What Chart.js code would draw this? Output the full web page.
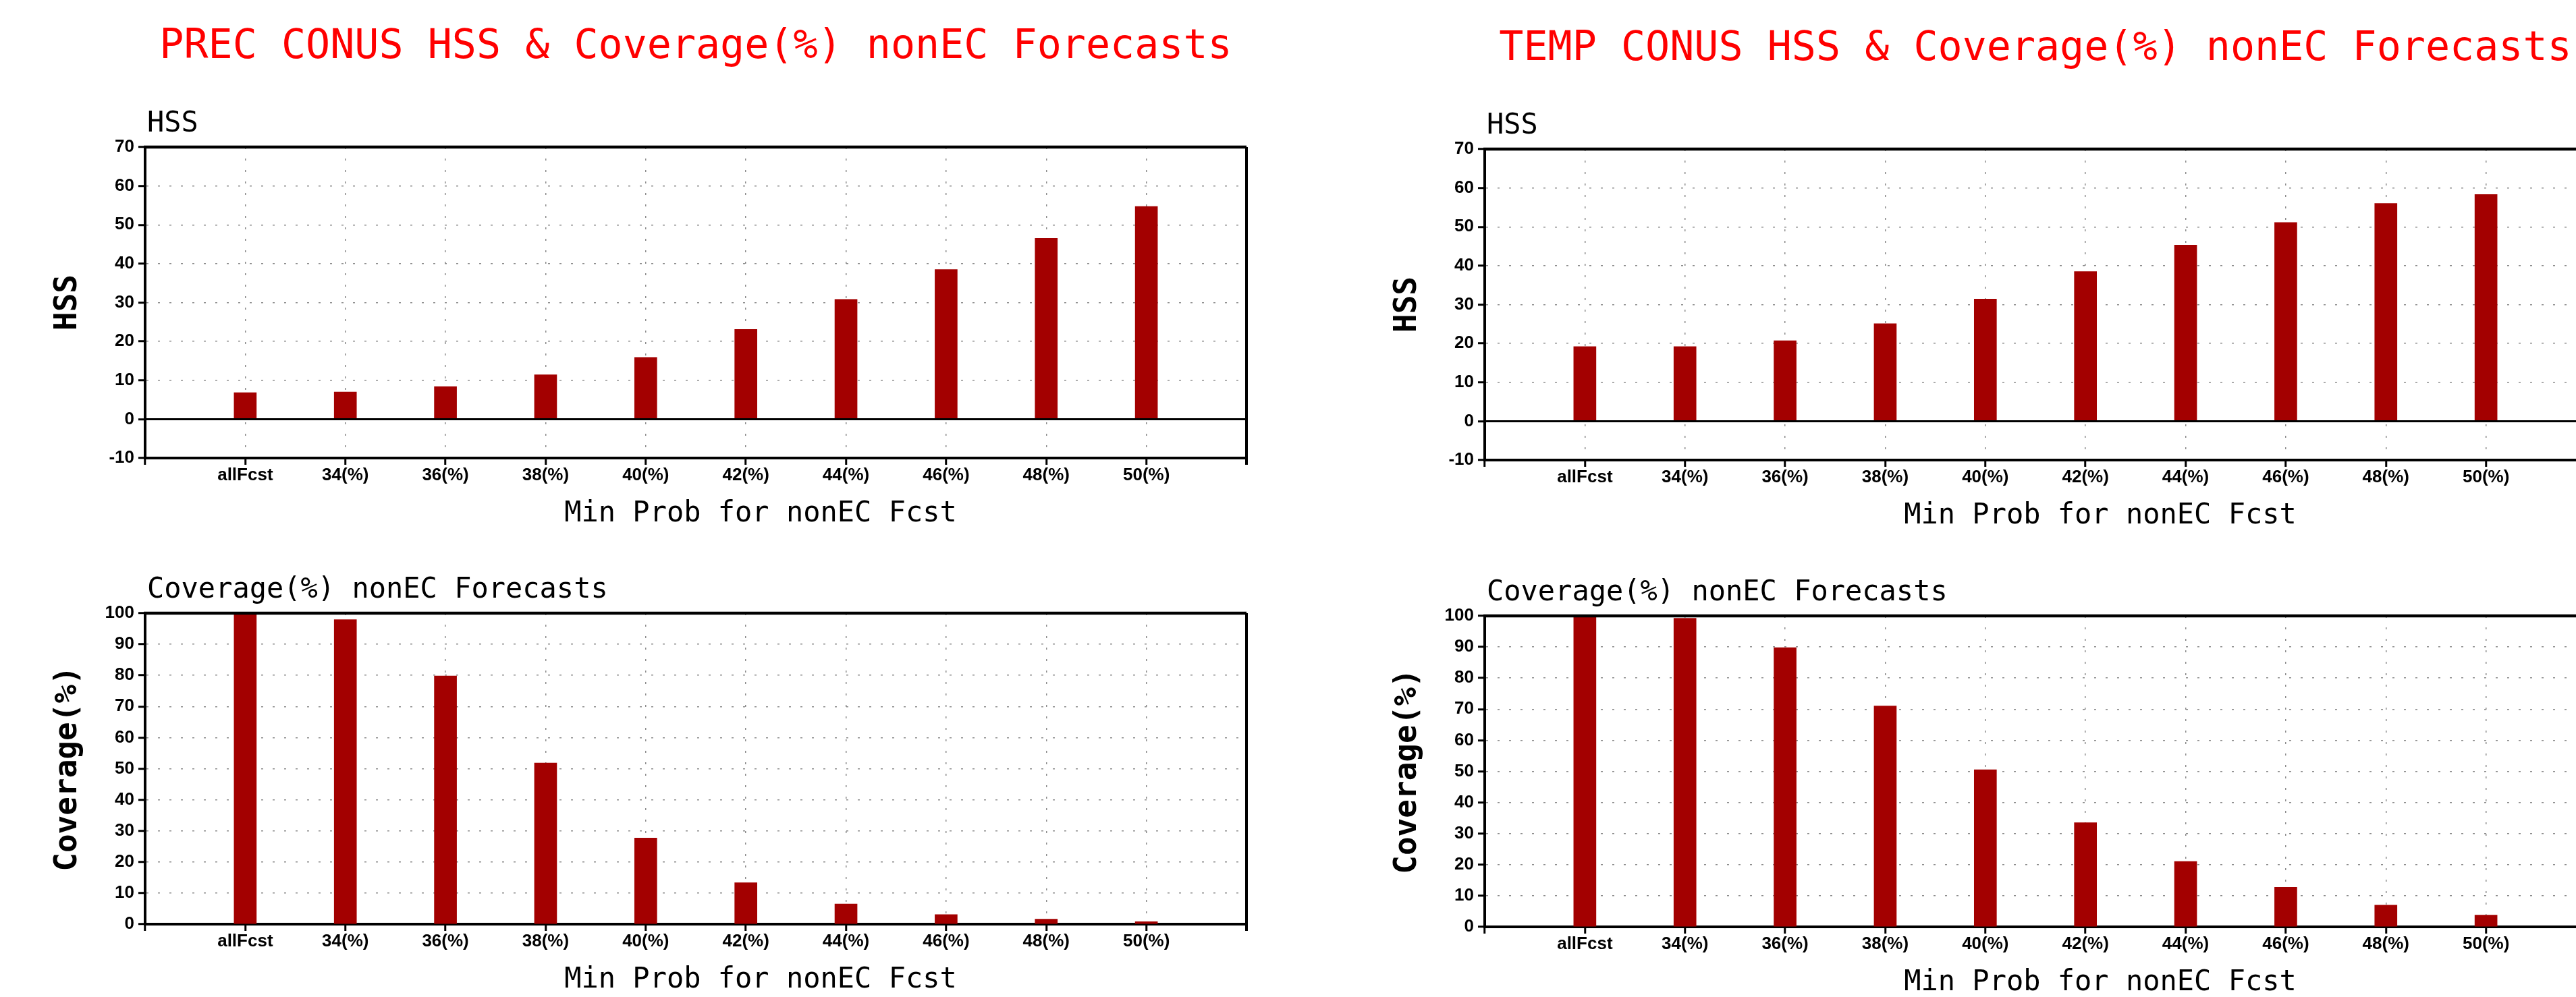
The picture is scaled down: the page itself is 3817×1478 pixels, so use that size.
<!DOCTYPE html>
<html>
<head>
<meta charset="utf-8">
<script src="https://cdn.jsdelivr.net/npm/chart.js@4.4.0/dist/chart.umd.min.js"></script>
<style>
  html, body { margin: 0; padding: 0; background: #fff; overflow: hidden; }
  body { width: 3817px; height: 1478px; position: relative; }
  canvas { position: absolute; }
</style>
</head>
<body>
<canvas id="precHss" width="1794" height="789" style="left:73px;top:0px"></canvas>
<canvas id="precCov" width="1794" height="681" style="left:73px;top:799px"></canvas>
<canvas id="tempHss" width="1794" height="792" style="left:2058px;top:0px"></canvas>
<canvas id="tempCov" width="1794" height="681" style="left:2058px;top:803px"></canvas>
<script>
// categories on the x axis (min prob thresholds)
const categories = ['allFcst', '34(%)', '36(%)', '38(%)', '40(%)', '42(%)', '44(%)', '46(%)', '48(%)', '50(%)'];

// values
const precHss = [6.8, 7.0, 8.4, 11.4, 15.9, 23.1, 30.8, 38.5, 46.5, 54.7];
const precCoverage = [100, 97.9, 79.8, 51.8, 27.7, 13.3, 6.5, 3.1, 1.6, 0.8];
const tempHss = [19.2, 19.2, 20.7, 25.1, 31.4, 38.5, 45.3, 51.1, 56.0, 58.3];
const tempCoverage = [100, 99.2, 89.8, 71.0, 50.5, 33.5, 21.0, 12.7, 7.0, 3.8];

// y axis ranges / tick step
const hssRange = [-10, 70];
const coverageRange = [0, 100];
const tickStep = 10;

const mono = '"DejaVu Sans Mono", monospace';
const barRed = '#a30000';
const gridGrey = '#8c8c8c';

// padded labels so the bars sit one slot in from each edge
const xLabels = [''].concat(categories, ['']);
const pad = arr => [null].concat(arr, [null]);

// frame lines + grads style texts
const gradsFrame = {
  id: 'gradsFrame',
  afterDraw(chart, args, opts) {
    const ctx = chart.ctx;
    const {left, right, top, bottom} = chart.chartArea;
    const y = chart.scales.y;
    ctx.save();
    ctx.strokeStyle = '#000';
    ctx.lineWidth = 4.5;
    ctx.beginPath();
    ctx.moveTo(left - 2, top);
    ctx.lineTo(right, top);
    ctx.stroke();
    ctx.lineWidth = 4;
    ctx.beginPath();
    ctx.moveTo(right, top);
    ctx.lineTo(right, bottom + 10);
    ctx.stroke();
    if (y.min < 0) {
      const y0 = y.getPixelForValue(0);
      ctx.lineWidth = 3;
      ctx.beginPath();
      ctx.moveTo(left, y0);
      ctx.lineTo(right, y0);
      ctx.stroke();
    }
    ctx.textBaseline = 'alphabetic';
    if (opts.title) {
      ctx.fillStyle = '#f00';
      ctx.font = '60px ' + mono;
      ctx.textAlign = 'center';
      ctx.fillText(opts.title, (left + right) / 2, top - 132);
    }
    ctx.fillStyle = '#000';
    ctx.font = '42px ' + mono;
    ctx.textAlign = 'left';
    ctx.fillText(opts.subtitle, left + 3, top - 23);
    ctx.textAlign = 'center';
    ctx.fillText(opts.xTitle, (left + right) / 2 + 96, bottom + 94);
    ctx.restore();
  }
};

function makeChart(id, values, range, yTitle, texts, padTop) {
  new Chart(document.getElementById(id), {
    type: 'bar',
    data: {
      labels: xLabels,
      datasets: [{
        data: pad(values),
        backgroundColor: barRed,
        borderWidth: 0,
        barThickness: 33
      }]
    },
    plugins: [gradsFrame],
    options: {
      responsive: false,
      animation: false,
      layout: { padding: { top: padTop, left: 0, right: 20, bottom: 0 } },
      plugins: {
        legend: { display: false },
        tooltip: { enabled: false },
        gradsFrame: texts
      },
      scales: {
        x: {
          offset: false,
          grid: {
            offset: false,
            color: gridGrey,
            lineWidth: 1.5,
            tickColor: '#000',
            tickWidth: 3,
            tickLength: 10
          },
          border: { display: true, color: '#000', width: 4, dash: [3, 14] },
          ticks: {
            color: '#000',
            padding: 0,
            maxRotation: 0,
            autoSkip: false,
            font: { family: '"Liberation Sans", Arial, sans-serif', size: 26, weight: 'bold' }
          },
          afterFit(scale) { scale.height = 110; }
        },
        y: {
          min: range[0],
          max: range[1],
          grid: {
            color: gridGrey,
            lineWidth: 1.5,
            tickColor: '#000',
            tickWidth: 3,
            tickLength: 10
          },
          border: { display: true, color: '#000', width: 4, dash: [3, 14] },
          ticks: {
            stepSize: tickStep,
            color: '#000',
            padding: 6,
            font: { family: '"Liberation Sans", Arial, sans-serif', size: 26, weight: 'bold' }
          },
          title: {
            display: true,
            text: yTitle,
            color: '#000',
            padding: 0,
            font: { family: mono, size: 46, weight: 'bold' }
          },
          afterFit(scale) { scale.width = 142; }
        }
      }
    }
  });
}

const xTitle = 'Min Prob for nonEC Fcst';

makeChart('precHss', precHss, hssRange, 'HSS',
  { title: 'PREC CONUS HSS & Coverage(%) nonEC Forecasts', subtitle: 'HSS', xTitle: xTitle }, 218);
makeChart('precCov', precCoverage, coverageRange, 'Coverage(%)',
  { subtitle: 'Coverage(%) nonEC Forecasts', xTitle: xTitle }, 110);
makeChart('tempHss', tempHss, hssRange, 'HSS',
  { title: 'TEMP CONUS HSS & Coverage(%) nonEC Forecasts', subtitle: 'HSS', xTitle: xTitle }, 221);
makeChart('tempCov', tempCoverage, coverageRange, 'Coverage(%)',
  { subtitle: 'Coverage(%) nonEC Forecasts', xTitle: xTitle }, 110);
</script>
</body>
</html>
